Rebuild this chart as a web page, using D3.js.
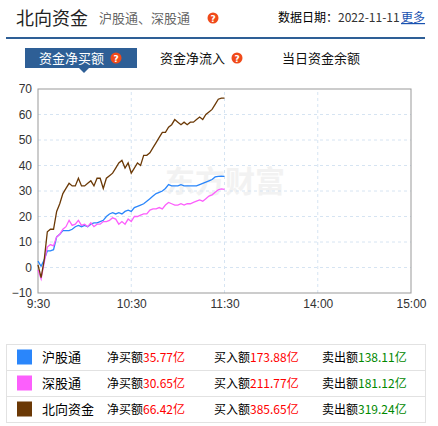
<!DOCTYPE html>
<html><head><meta charset="utf-8">
<script src="https://cdn.jsdelivr.net/npm/d3@7"></script>
<style>
body{margin:0;background:#fff;font-family:"Noto Sans CJK SC","Noto Sans",sans-serif;}
</style></head>
<body><svg id="c" width="438" height="426"></svg>
<script>
// minutes since 9:30 (morning session only)
const minutes = d3.range(0, 121, 2);
const shValues = [2.5,0.5,3,6.5,6.5,7,12,13,14.5,14.5,14.5,15,16,16.5,16,16.5,16,17,17.5,17.5,18,18.5,20,21,21.5,21,21.5,21,22,22.5,22,23.5,24,24.5,25,26,27,28,29,29.5,30,31,32.5,32,32,32,32.5,32,32,32,32,32,32.5,33,33.5,34,34.5,35.5,35.7,35.8,35.77];
const szValues = [-1,-4.5,2,8,9,8.5,12,13,15,16,18.5,16.5,17,18.5,16.5,17,16,17.5,16,17,17,18,18,18.5,19.5,19,17,18,17,19,18,20,20,20.5,21,21,22.5,23,23,23.5,23,24.5,25.5,25,24.5,24.5,25,24.5,25,25,25.5,26,26.5,26,27,28,28.5,29.5,30.5,30.8,30.65];
const northValues = [1,-4,3,14,15,15,22,25,29,31,33,32,32,35,32,32,33,34,32,35,35,31,35,36,37,39,41,42,39,41,37,39,41,40,44,44,45,47,49,51,53,53,55,56,58,57,56,57,56,57,57,58,59,58,60,61,62,64,66,66.4,66.42];
const yTicks = [-10,0,10,20,30,40,50,60,70];
const xTicks = [0,60,120,180,240];
const xTickLabels = ["9:30","10:30","11:30","14:00","15:00"];
const seriesNames = ["沪股通","深股通","北向资金"];
const seriesColors = ["#2a86fb","#fc5ffc","#6b3906"];
const netBuy = ["35.77亿","30.65亿","66.42亿"];
const buyIn = ["173.88亿","211.77亿","385.65亿"];
const sellOut = ["138.11亿","181.12亿","319.24亿"];

const svg = d3.select("#c");
const font = '"Noto Sans CJK SC",sans-serif';

// header
svg.append("text").attr("x",16).attr("y",25).attr("font-size",18).attr("fill","#222").attr("font-family",font).text("北向资金");
svg.append("text").attr("x",99).attr("y",23).attr("font-size",13).attr("fill","#666").attr("font-family",font).text("沪股通、深股通");
function qmark(x,y){
  svg.append("circle").attr("cx",x).attr("cy",y).attr("r",5.5).attr("fill","#f04a1a");
  svg.append("text").attr("x",x).attr("y",y+4).attr("text-anchor","middle").attr("font-size",9).attr("font-weight","bold").attr("fill","#fff").attr("font-family","DejaVu Sans").text("?");
}
qmark(213,18);
const hd = svg.append("text").attr("x",278).attr("y",22).attr("font-size",12).attr("font-family",font);
hd.append("tspan").attr("fill","#000").text("数据日期：");
hd.append("tspan").attr("fill","#333").text("2022-11-11 ");
svg.append("text").attr("x",401).attr("y",22).attr("font-size",12).attr("fill","#1a52b0").attr("font-family",font).attr("text-decoration","underline").text("更多");
svg.append("rect").attr("x",6).attr("y",37).attr("width",419).attr("height",2).attr("fill","#2e5f96");

// tabs
svg.append("rect").attr("x",25).attr("y",48).attr("width",112).attr("height",20).attr("fill","#2e5f96");
svg.append("path").attr("d","M79,68 L89,68 L84,73 Z").attr("fill","#2e5f96");
svg.append("text").attr("x",39).attr("y",63).attr("font-size",13).attr("fill","#fff").attr("font-family",font).text("资金净买额");
qmark(116,58);
svg.append("text").attr("x",160).attr("y",63).attr("font-size",13).attr("fill","#111").attr("font-family",font).text("资金净流入");
qmark(237,58);
svg.append("text").attr("x",282).attr("y",63).attr("font-size",13).attr("fill","#111").attr("font-family",font).text("当日资金余额");

// chart
const x = d3.scaleLinear().domain([0,240]).range([38,411]);
const y = d3.scaleLinear().domain([-10,70]).range([293,89]);

svg.append("text").attr("x",225).attr("y",192).attr("text-anchor","middle").attr("font-size",30).attr("font-weight","bold").attr("fill","#f2f2f2").attr("font-family",font).text("东方财富");

const grid = svg.append("g").attr("stroke","#d6e4f2").attr("stroke-dasharray","3,3");
yTicks.slice(1,-1).forEach(t=>grid.append("line").attr("x1",x(0)).attr("x2",x(240)).attr("y1",y(t)).attr("y2",y(t)));
xTicks.slice(1,-1).forEach(t=>grid.append("line").attr("x1",x(t)).attr("x2",x(t)).attr("y1",y(-10)).attr("y2",y(70)));
svg.append("rect").attr("x",x(0)).attr("y",y(70)).attr("width",x(240)-x(0)).attr("height",y(-10)-y(70)).attr("fill","none").attr("stroke","#999");

const ya = svg.append("g").attr("transform",`translate(${x(0)},0)`).call(d3.axisLeft(y).tickValues(yTicks).tickSize(0).tickPadding(6));
ya.select(".domain").remove();
ya.selectAll("text").attr("font-size",12).attr("fill","#333").attr("font-family","Liberation Sans, sans-serif");
const xa = svg.append("g").attr("transform",`translate(0,${y(-10)})`).call(d3.axisBottom(x).tickValues(xTicks).tickFormat((d,i)=>xTickLabels[i]).tickSize(0).tickPadding(6));
xa.select(".domain").remove();
xa.selectAll("text").attr("font-size",12).attr("fill","#333").attr("font-family","Liberation Sans, sans-serif");

const line = d3.line().x((d,i)=>x(minutes[i])).y(d=>y(d));
[shValues,szValues,northValues].forEach((vals,k)=>{
  svg.append("path").datum(vals).attr("d",line).attr("fill","none").attr("stroke",seriesColors[k]).attr("stroke-width",1.3);
});

// legend table
const tb = svg.append("g");
tb.append("rect").attr("x",6.5).attr("y",344.5).attr("width",419).attr("height",78).attr("fill","none").attr("stroke","#e2e2e2");
[1,2].forEach(r=>tb.append("line").attr("x1",6.5).attr("x2",425.5).attr("y1",344.5+r*26).attr("y2",344.5+r*26).attr("stroke","#e2e2e2"));
seriesNames.forEach((n,i)=>{
  const cy = 357+i*26;
  tb.append("rect").attr("x",17).attr("y",cy-7.5).attr("width",15).attr("height",15).attr("fill",seriesColors[i]);
  tb.append("text").attr("x",42).attr("y",cy+5).attr("font-size",13).attr("font-family",font).text(n);
  const cols = [[107,"净买额",netBuy[i],"#f00"],[214,"买入额",buyIn[i],"#f00"],[322,"卖出额",sellOut[i],"#080"]];
  cols.forEach(c=>{
    const t = tb.append("text").attr("x",c[0]).attr("y",cy+5).attr("font-size",12).attr("font-family",font);
    t.append("tspan").attr("fill","#000").text(c[1]);
    t.append("tspan").attr("fill",c[3]).text(c[2]);
  });
});
</script></body></html>
